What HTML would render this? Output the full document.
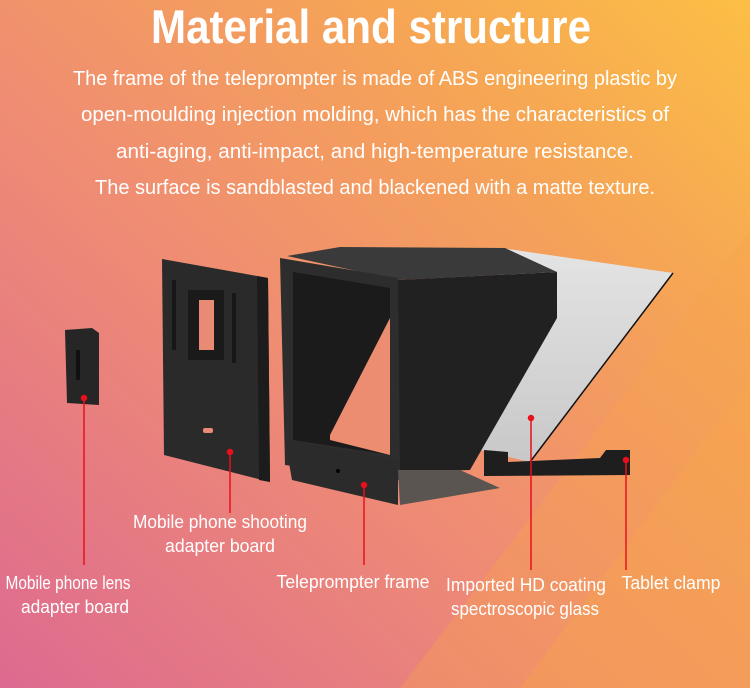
<!DOCTYPE html>
<html><head><meta charset="utf-8"><style>
html,body{margin:0;padding:0;width:750px;height:688px;overflow:hidden}
svg{display:block}
text{font-family:"Liberation Sans Narrow","Liberation Sans",sans-serif;fill:#fff}
</style></head><body>
<svg width="750" height="688" viewBox="0 0 750 688" xmlns="http://www.w3.org/2000/svg">
<defs>
<linearGradient id="bg" x1="0" y1="1" x2="1" y2="0">
<stop offset="0" stop-color="#dd6a90"/>
<stop offset="0.4" stop-color="#ee8a76"/>
<stop offset="0.75" stop-color="#f6a555"/>
<stop offset="1" stop-color="#fcbf45"/>
</linearGradient>
<linearGradient id="glass" x1="0" y1="0" x2="0" y2="1">
<stop offset="0" stop-color="#e4e4e4"/><stop offset="1" stop-color="#c8c8c8"/>
</linearGradient>
</defs>
<rect width="750" height="688" fill="url(#bg)"/>
<polygon points="400,688 750,230 750,688" fill="#f6a24c" opacity="0.35"/>
<polygon points="520,688 750,380 750,688" fill="#f8a848" opacity="0.3"/>
<text x="371" y="43" font-size="47" font-weight="bold" text-anchor="middle" textLength="440" lengthAdjust="spacingAndGlyphs">Material and structure</text>
<g font-size="20" text-anchor="middle">
<text x="375" y="85" textLength="604" lengthAdjust="spacingAndGlyphs">The frame of the teleprompter is made of ABS engineering plastic by</text>
<text x="375" y="121" textLength="588" lengthAdjust="spacingAndGlyphs">open-moulding injection molding, which has the characteristics of</text>
<text x="375" y="158" textLength="518" lengthAdjust="spacingAndGlyphs">anti-aging, anti-impact, and high-temperature resistance.</text>
<text x="375" y="194" textLength="560" lengthAdjust="spacingAndGlyphs">The surface is sandblasted and blackened with a matte texture.</text>
</g>
<polygon points="501,248 673,273 530,462 480,450" fill="url(#glass)"/>
<line x1="673" y1="273" x2="530" y2="462" stroke="#111" stroke-width="1.5"/>
<polygon points="484,450 508,452 508,462 600,458 606,450 630,450 630,475 484,476" fill="#1e1e1e"/>
<polygon points="65,330 92,328 99,333 99,405 67,403" fill="#262626"/>
<rect x="76" y="350" width="4" height="30" fill="#111"/>
<polygon points="162,259 268,278 270,482 164,455" fill="#2a2a2a"/>
<polygon points="257,276 268,278 270,482 259,480" fill="#1c1c1c"/>
<rect x="188" y="290" width="36" height="70" fill="#1a1a1a"/>
<rect x="199" y="300" width="15" height="50" fill="#e98a74"/>
<rect x="172" y="280" width="4" height="70" fill="#171717"/>
<rect x="232" y="293" width="4" height="70" fill="#171717"/>
<rect x="203" y="428" width="10" height="5" rx="2" fill="#e98a74"/>
<polygon points="287,256 340,247 505,248 557,272 398,280" fill="#3a3a3a"/>
<polygon points="398,280 557,272 557,318 470,470 398,472" fill="#212121"/>
<polygon points="280,258 398,278 400,480 285,465" fill="#2d2d2d"/>
<polygon points="293,272 390,288 390,455 293,440" fill="#1b1b1b"/>
<polygon points="390,318 390,455 330,440 330,435" fill="#ec8c70"/>
<polygon points="285,440 398,460 398,505 292,480" fill="#2b2b2b"/>
<polygon points="398,470 460,470 500,488 400,505" fill="#5a5550"/>
<circle cx="338" cy="471" r="2" fill="#000"/>
<g stroke="#e8101a" stroke-width="1.5" fill="#e8101a">
<line x1="84" y1="398" x2="84" y2="565"/><circle cx="84" cy="398" r="2.5"/>
<line x1="230" y1="452" x2="230" y2="513"/><circle cx="230" cy="452" r="2.5"/>
<line x1="364" y1="485" x2="364" y2="565"/><circle cx="364" cy="485" r="2.5"/>
<line x1="531" y1="418" x2="531" y2="570"/><circle cx="531" cy="418" r="2.5"/>
<line x1="626" y1="460" x2="626" y2="570"/><circle cx="626" cy="460" r="2.5"/>
</g>
<g font-size="18" text-anchor="middle">
<text x="220" y="528" textLength="174" lengthAdjust="spacingAndGlyphs">Mobile phone shooting</text>
<text x="220" y="552" textLength="110" lengthAdjust="spacingAndGlyphs">adapter board</text>
<text x="68" y="589" textLength="125" lengthAdjust="spacingAndGlyphs">Mobile phone lens</text>
<text x="75" y="613" textLength="108" lengthAdjust="spacingAndGlyphs">adapter board</text>
<text x="353" y="588" textLength="153" lengthAdjust="spacingAndGlyphs">Teleprompter frame</text>
<text x="526" y="591" textLength="160" lengthAdjust="spacingAndGlyphs">Imported HD coating</text>
<text x="525" y="615" textLength="148" lengthAdjust="spacingAndGlyphs">spectroscopic glass</text>
<text x="671" y="589" textLength="99" lengthAdjust="spacingAndGlyphs">Tablet clamp</text>
</g>
</svg>
</body></html>
